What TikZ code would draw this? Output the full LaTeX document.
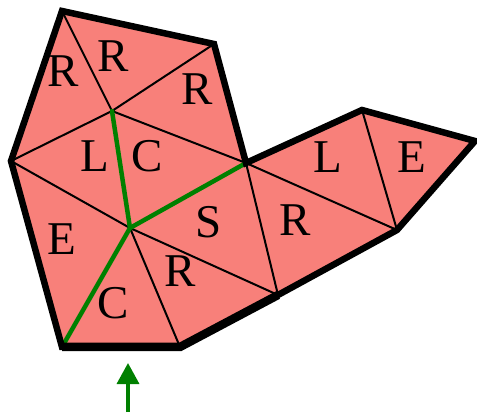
\documentclass[tikz,border=0pt]{standalone}
\usepackage{fontspec}
\setmainfont{Liberation Serif}
\usetikzlibrary{arrows.meta}
\definecolor{tri}{RGB}{248,128,122}
\definecolor{grn}{RGB}{0,128,0}
\begin{document}
\begin{tikzpicture}[x=1pt,y=-1pt,
  inner/.style={black,line width=2pt},
  bound/.style={black,line width=6.5pt,line join=miter},
  dual/.style={grn,line width=4.5pt,line cap=round},
  lab/.style={font=\fontsize{47}{47}\selectfont,inner sep=0pt}]
\useasboundingbox (0,0) rectangle (477,414);
\coordinate (A) at (62,11);
\coordinate (B) at (214,44);
\coordinate (C) at (11,161);
\coordinate (D) at (112,111);
\coordinate (E) at (246,163);
\coordinate (F) at (362,110);
\coordinate (G) at (475,141);
\coordinate (H) at (397,230);
\coordinate (I) at (278,295);
\coordinate (J) at (180,347);
\coordinate (K) at (62,347);
\coordinate (M) at (130,228);
\fill[tri] (A)--(B)--(E)--(F)--(G)--(H)--(I)--(J)--(K)--(C)--cycle;
\draw[inner] (A)--(D) (C)--(D) (B)--(D) (D)--(E) (C)--(M) (M)--(J) (M)--(I)
  (E)--(I) (E)--(H) (F)--(H);
\draw[dual] (D)--(M) (M)--(E) (M)--(K);
\draw[bound] (A)--(B)--(E)--(F)--(G)--(H)--(I)--(J)--(K)--(C)--cycle;
\draw[black,line width=8.5pt] (I)--(J)--(K);
\node[lab] (l1) at (63,71) {R};
\node[lab] (l2) at (113,56) {R};
\node[lab] (l3) at (197,89) {R};
\node[lab] (l4) at (95,156) {L};
\node[lab] (l5) at (147,156) {C};
\node[lab] (l6) at (62,239) {E};
\node[lab] (l7) at (113,303) {C};
\node[lab] (l8) at (180,271) {R};
\node[lab] (l9) at (209,222) {S};
\node[lab] (l10) at (295,220) {R};
\node[lab] (l11) at (328,157) {L};
\node[lab] (l12) at (412,157) {E};
\coordinate (s0) at (128,412);
\coordinate (s1) at (128,363);
\draw[grn,line width=3.5pt,-{Triangle[width=22pt,length=21pt]}] (s0)--(s1);
\end{tikzpicture}
\end{document}
